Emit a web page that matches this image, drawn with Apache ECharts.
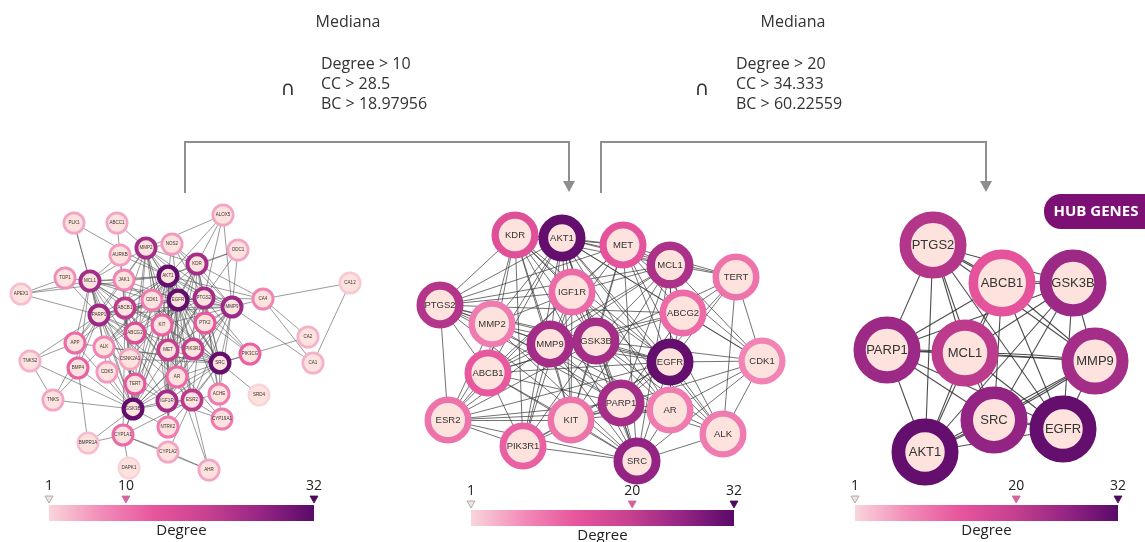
<!DOCTYPE html>
<html>
<head>
<meta charset="utf-8">
<script src="https://cdn.jsdelivr.net/npm/echarts@6/dist/echarts.min.js"></script>
<style>
html, body { margin: 0; padding: 0; background: #fff; }
#main { width: 1145px; height: 542px; }
</style>
</head>
<body>
<div id="main"></div>
<script>
// ---- network 1 : all targets ----
const names1 = ['PLK1','ABCC1','ALOX5','AURKB','MMP2','NOS2','ODC1','KDR','TOP1','MCL1','JAK1','AKT1','APEX1','CDK1','EGFR','PTGS2','MMP9','CA4','CA12','PARP1','ABCB1','KIT','PTK2','ABCG2','APP','ALK','MET','PIK3R1','PIK3CG','CA2','CA1','TNKS2','BMP4','CDK5','CSNK2A1','SRC','AR','TERT','TNKS','GSK3B','IGF1R','ESR2','ACHE','SRD4','CYP19A1','NTRK2','CYP1A1','BMPR1A','CYP1A2','AHR','DAPK1'];
const layout1 = [[74,223],[117,223],[223,215],[120,255],[146,248],[172,244],[238,250],[197,264],[65,278],[90,281],[124,280],[168,276],[21,294],[152,300],[178,300],[204,298],[232,307],[263,299],[350,283],[99,315],[125,308],[162,325],[205,323],[135,333],[75,343],[104,347],[168,350],[193,349],[250,354],[308,337],[313,363],[30,361],[78,368],[107,372],[130,359],[220,363],[177,377],[135,384],[53,400],[133,409],[167,401],[192,400],[219,394],[259,395],[222,419],[168,427],[123,435],[88,443],[168,452],[209,470],[129,468]];
const degree1 = [5,5,5,6,24,6,5,24,7,24,8,31,3,9,31,24,25,8,2,25,21,12,13,16,11,8,20,20,12,4,4,4,12,6,5,31,11,13,5,31,24,21,9,1,9,9,11,3,5,5,1];
const links1 = [
  'AKT1: MMP2 NOS2 KDR MCL1 JAK1 CDK1 EGFR PTGS2 MMP9 PARP1 ABCB1 KIT PTK2 ABCG2 APP ALK MET PIK3R1 PIK3CG CSNK2A1 SRC AR TERT GSK3B IGF1R ESR2 ACHE NTRK2 PLK1 AURKB ALOX5 ODC1 APEX1 TNKS CA4',
  'EGFR: MMP2 NOS2 KDR MCL1 CDK1 PTGS2 MMP9 PARP1 ABCB1 KIT PTK2 ABCG2 ALK MET PIK3R1 PIK3CG SRC AR TERT GSK3B IGF1R ESR2 NTRK2 CYP1A1 JAK1 CSNK2A1',
  'SRC: MMP2 KDR MCL1 JAK1 CDK1 PTGS2 MMP9 PARP1 KIT PTK2 MET PIK3R1 PIK3CG AR GSK3B IGF1R ESR2 ACHE NTRK2 SRD4 CSNK2A1 ALK APP CA2',
  'GSK3B: MMP2 MCL1 JAK1 CDK1 PTGS2 MMP9 PARP1 ABCB1 KIT APP ALK CDK5 CSNK2A1 TERT AR IGF1R ESR2 TNKS TNKS2 BMPR1A CYP1A1 NTRK2 AURKB PIK3R1 BMP4',
  'MMP2: KDR MCL1 PTGS2 MMP9 PARP1 ABCB1 KIT ABCG2 MET APP IGF1R NOS2 ABCC1 ESR2 ALOX5',
  'MMP9: KDR MCL1 PTGS2 PARP1 ABCB1 KIT PTK2 MET PIK3R1 AR IGF1R ESR2 ALOX5 ODC1 NOS2 CA4 ACHE CA1',
  'MCL1: JAK1 CDK1 PARP1 ABCB1 KIT ABCG2 APP ALK TERT IGF1R PLK1 TOP1 APEX1 AURKB BMP4',
  'PARP1: ABCB1 CDK1 TERT APEX1 TOP1 TNKS TNKS2 AR ESR2 ABCG2 APP CDK5 BMP4 PLK1 CSNK2A1',
  'KDR: PTGS2 MET KIT PIK3R1 IGF1R PTK2 ALK ALOX5 ODC1 CA4 NOS2',
  'PTGS2: ABCB1 ABCG2 MET AR ESR2 NOS2 ALOX5 ODC1 CA4 PIK3CG ACHE CYP19A1',
  'ABCB1: ABCG2 ABCC1 KIT AR ESR2 CYP1A1 CYP19A1 TERT',
  'IGF1R: KIT MET AR ESR2 PIK3R1 NTRK2 ALK TERT CYP19A1',
  'ESR2: AR CYP19A1 CYP1A1 CYP1A2 AHR ACHE',
  'CA12: CA4 CA1',
  'CA4: CA2 CA1',
  'TNKS2: TNKS APP',
  'BMPR1A: BMP4 CYP1A1',
  'CYP1A1: CYP1A2 AHR DAPK1',
  'AHR: CYP1A2 AR',
  'TOP1: APEX1'
];

// ---- network 2 : shared targets ----
const names2 = ['KDR','AKT1','MET','MCL1','TERT','IGF1R','ABCG2','PTGS2','MMP2','MMP9','GSK3B','EGFR','CDK1','ABCB1','ESR2','KIT','PARP1','AR','ALK','PIK3R1','SRC'];
const layout2 = [[515,235],[562,238],[623,245],[670,265],[736,277],[572,292],[683,313],[440,305],[492,324],[550,344],[596,341],[670,362],[762,361],[488,373],[448,420],[571,420],[621,403],[670,410],[723,434],[523,446],[637,461]];
const degree2 = [15,31,14,23,10,11,11,22,9,24,24,31,8,13,10,10,24,9,9,12,26];
const links2 = [
  'AKT1: KDR MET MCL1 TERT IGF1R ABCG2 PTGS2 MMP2 MMP9 GSK3B EGFR CDK1 ABCB1 ESR2 KIT PARP1 AR ALK PIK3R1 SRC',
  'EGFR: KDR MET MCL1 TERT IGF1R ABCG2 PTGS2 MMP2 MMP9 GSK3B CDK1 ABCB1 ESR2 KIT PARP1 AR ALK PIK3R1 SRC',
  'SRC: KDR MET MCL1 IGF1R PTGS2 MMP2 MMP9 GSK3B CDK1 ESR2 KIT PARP1 AR ALK PIK3R1 ABCB1',
  'GSK3B: KDR MET MCL1 TERT IGF1R PTGS2 MMP9 CDK1 ABCB1 ESR2 KIT PARP1 AR ALK PIK3R1',
  'MMP9: KDR MET MCL1 IGF1R ABCG2 PTGS2 MMP2 ABCB1 ESR2 KIT PARP1 AR PIK3R1',
  'PARP1: MCL1 TERT ABCG2 PTGS2 MMP2 ABCB1 ESR2 KIT AR ALK CDK1 PIK3R1',
  'MCL1: KDR MET TERT IGF1R ABCG2 PTGS2 ABCB1 KIT AR CDK1',
  'PTGS2: KDR MET IGF1R ABCG2 MMP2 ABCB1 ESR2 AR',
  'ABCB1: KDR ABCG2 MMP2 ESR2 KIT PIK3R1 MET',
  'KDR: MET IGF1R MMP2 KIT PIK3R1 ALK',
  'MET: IGF1R KIT ALK ABCG2 CDK1 TERT',
  'IGF1R: KIT ESR2 AR PIK3R1 MMP2',
  'ESR2: AR PIK3R1 MMP2 KIT',
  'TERT: ABCG2 CDK1 ALK',
  'KIT: PIK3R1 AR',
  'AR: ALK CDK1',
  'CDK1: ALK ABCG2'
];

// ---- network 3 : hub genes ----
const names3 = ['PTGS2','ABCB1','GSK3B','PARP1','MCL1','MMP9','SRC','EGFR','AKT1'];
const layout3 = [[933,245],[1002,283],[1073,283],[887,350],[965,353],[1095,361],[994,420],[1063,429],[925,452]];
const degree3 = [22,14,25,25,21,24,26,31,31];
const links3 = [
  'PTGS2: ABCB1 GSK3B PARP1 MCL1 MMP9 SRC EGFR AKT1',
  'ABCB1: GSK3B PARP1 MCL1 MMP9 SRC EGFR AKT1',
  'GSK3B: PARP1 MCL1 MMP9 SRC EGFR AKT1',
  'PARP1: MCL1 MMP9 SRC EGFR AKT1',
  'MCL1: MMP9 SRC EGFR AKT1',
  'MMP9: SRC EGFR AKT1',
  'SRC: EGFR AKT1',
  'EGFR: AKT1'
];
// pairs with more than one interaction (drawn as a bundle)
const bundles3 = ['PTGS2-ABCB1', 'ABCB1-GSK3B', 'PARP1-MCL1', 'SRC-EGFR', 'SRC-AKT1', 'MMP9-SRC', 'MCL1-MMP9'];

// colour scale ticks
const scaleMin = 1, scaleMax = 32;
const cut1 = 10, cut2 = 20;
const rampColors = ['#f9d5db', '#f28bb8', '#e7559c', '#c7418f', '#962584', '#5a0a69'];
const nodeFill = '#fde2de';

function degColor(d) {
  return echarts.color.lerp((d - scaleMin) / (scaleMax - scaleMin), rampColors);
}

function parseLinks(list, bundles) {
  const out = [];
  list.forEach(s => {
    const parts = s.split(':');
    const src = parts[0].trim();
    parts[1].trim().split(/\s+/).forEach(t => out.push({source: src, target: t}));
  });
  (bundles || []).forEach(p => {
    const ab = p.split('-');
    out.push({source: ab[0], target: ab[1], lineStyle: {curveness: 0.035}});
  });
  return out;
}

function buildGraph(names, layout, deg, links, bundles, st) {
  const data = names.map((n, i) => {
    const bw = st.bw0 + deg[i] * st.bwK;
    return {
      name: n,
      value: layout[i],
      symbolSize: st.size - bw,
      itemStyle: {color: nodeFill, borderColor: degColor(deg[i]), borderWidth: bw}
    };
  });
  return {
    type: 'graph',
    coordinateSystem: 'cartesian2d',
    symbol: 'circle',
    data: data,
    links: parseLinks(links, bundles),
    label: {show: true, position: 'inside', color: '#333', fontFamily: '"Liberation Sans", Arial, sans-serif', fontSize: st.font},
    lineStyle: {color: st.lineColor, width: st.lineWidth, opacity: st.lineOpacity, curveness: 0},
    emphasis: {disabled: true},
    silent: true
  };
}

const chart = echarts.init(document.getElementById('main'));

const txt = (x, y, s, o) => ({
  type: 'text', x: x, y: y,
  style: Object.assign({text: s, fill: '#333', font: '16px "Open Sans"'}, o || {})
});

function colorBar(x0, x1, y, cut) {
  const w = x1 - x0;
  const pos = v => x0 + (v - scaleMin) / (scaleMax - scaleMin) * w;
  const tri = (v, c, stroke) => ({
    type: 'polygon',
    shape: {points: [[pos(v) - 4, y - 9], [pos(v) + 4, y - 9], [pos(v), y - 2]]},
    style: {fill: c, stroke: stroke || c, lineWidth: 0.8}
  });
  const lbl = v => txt(pos(v), y - 19, String(v), {align: 'center', verticalAlign: 'middle', font: '14px "Open Sans"', fill: '#222'});
  return [
    {
      type: 'rect', shape: {x: x0, y: y, width: w, height: 16},
      style: {fill: new echarts.graphic.LinearGradient(0, 0, 1, 0,
        rampColors.map((c, i) => ({offset: i / (rampColors.length - 1), color: c})))}
    },
    tri(scaleMin, '#f3e3e0', '#999'), tri(cut, '#d2649a'), tri(scaleMax, '#4a0b58'),
    lbl(scaleMin), lbl(cut), lbl(scaleMax),
    txt(x0 + w / 2, y + 26, 'Degree', {align: 'center', verticalAlign: 'middle', font: '15px "Open Sans"', fill: '#222'})
  ];
}

const graphics = [].concat(
  [
    txt(348, 22, 'Mediana', {align: 'center', verticalAlign: 'middle'}),
    txt(321, 64, 'Degree > 10', {verticalAlign: 'middle'}),
    txt(321, 84, 'CC > 28.5', {verticalAlign: 'middle'}),
    txt(321, 104, 'BC > 18.97956', {verticalAlign: 'middle'}),
    txt(288, 90, '∩', {align: 'center', verticalAlign: 'middle', font: '20px "DejaVu Sans"'}),
    txt(793, 22, 'Mediana', {align: 'center', verticalAlign: 'middle'}),
    txt(736, 64, 'Degree > 20', {verticalAlign: 'middle'}),
    txt(736, 84, 'CC > 34.333', {verticalAlign: 'middle'}),
    txt(736, 104, 'BC > 60.22559', {verticalAlign: 'middle'}),
    txt(702, 90, '∩', {align: 'center', verticalAlign: 'middle', font: '20px "DejaVu Sans"'}),
    {type: 'polyline', shape: {points: [[185, 193], [185, 142], [569, 142], [569, 182]]}, style: {stroke: '#8e8e8e', lineWidth: 2, fill: null}},
    {type: 'polygon', shape: {points: [[563, 181], [575, 181], [569, 192]]}, style: {fill: '#8e8e8e'}},
    {type: 'polyline', shape: {points: [[601, 193], [601, 142], [986, 142], [986, 182]]}, style: {stroke: '#8e8e8e', lineWidth: 2, fill: null}},
    {type: 'polygon', shape: {points: [[980, 181], [992, 181], [986, 192]]}, style: {fill: '#8e8e8e'}},
    {type: 'rect', shape: {x: 1044, y: 194, width: 120, height: 35, r: 17}, style: {fill: '#7d1075'}},
    txt(1096, 212, 'HUB GENES', {align: 'center', verticalAlign: 'middle', fill: '#fff', font: 'bold 15px "Open Sans"'})
  ],
  colorBar(49, 314, 505, cut1),
  colorBar(471, 734, 510, cut2),
  colorBar(855, 1118, 505, cut2)
);

const option = {
  animation: false,
  grid: {left: 0, right: 0, top: 0, bottom: 0},
  xAxis: {type: 'value', min: 0, max: 1145, show: false},
  yAxis: {type: 'value', min: 0, max: 542, inverse: true, show: false},
  graphic: {elements: graphics},
  series: [
    buildGraph(names1, layout1, degree1, links1, null, {size: 23, bw0: 2.4, bwK: 0.06, font: 4.5, lineColor: '#555', lineWidth: 0.8, lineOpacity: 0.75}),
    buildGraph(names2, layout2, degree2, links2, null, {size: 47, bw0: 5, bwK: 0.15, font: 9.5, lineColor: '#3a3a3a', lineWidth: 0.9, lineOpacity: 0.8}),
    buildGraph(names3, layout3, degree3, links3, bundles3, {size: 67, bw0: 6, bwK: 0.25, font: 13, lineColor: '#2e2e2e', lineWidth: 1.1, lineOpacity: 0.85})
  ]
};

chart.setOption(option);
</script>
</body>
</html>
